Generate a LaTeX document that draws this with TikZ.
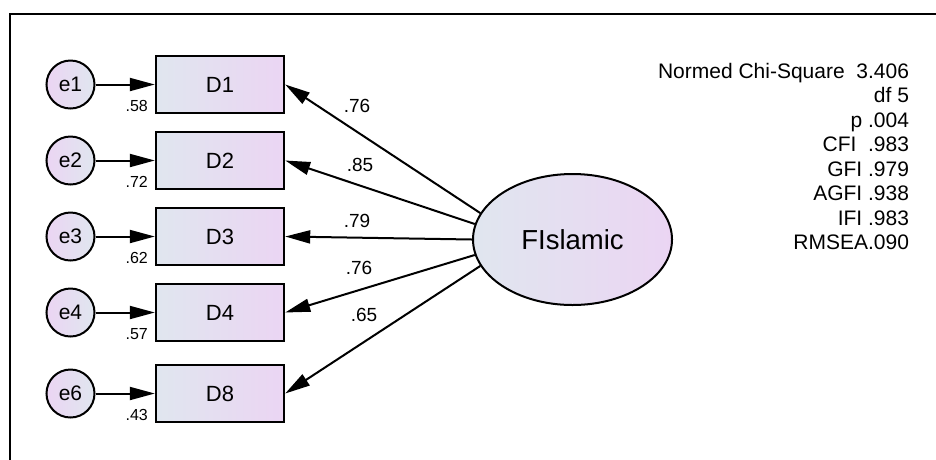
\documentclass[tikz,border=0pt]{standalone}
\usepackage{fontspec}
\setmainfont{Liberation Sans}
\usetikzlibrary{arrows.meta,shapes.geometric,matrix}
\definecolor{shadeblue}{RGB}{224,230,239}
\definecolor{shadepink}{RGB}{235,213,243}

\begin{document}
\begin{tikzpicture}[x=1pt,y=-1pt,line width=2pt]
    % `indicator' is used for the observed boxes (D1 ... D8).
    % `error' is used for the small error circles.
    % `latent' is used for the factor ellipse.
    \tikzstyle{indicator} = [draw,line width=2.4pt,left color=shadeblue,right color=shadepink,minimum width=128pt,minimum height=57pt,inner sep=0pt,font=\fontsize{22}{26}\selectfont]
    \tikzstyle{error} = [draw,shape=circle,left color=shadepink,right color=shadeblue,minimum size=48pt,inner sep=0pt,font=\fontsize{21}{25}\selectfont]
    \tikzstyle{latent} = [draw,shape=ellipse,left color=shadeblue,right color=shadepink,minimum width=199pt,minimum height=131pt,inner sep=0pt,font=\fontsize{27.5}{32}\selectfont]
    \tikzstyle{effect} = [-{Triangle[length=25pt,width=13pt]}]
    \tikzstyle{small} = [inner sep=0pt,font=\fontsize{16}{19}\selectfont]
    \tikzstyle{weight} = [inner sep=0pt,font=\fontsize{19}{22}\selectfont]
    \tikzstyle{fitline} = [anchor=base east,inner sep=0pt,font=\fontsize{21}{25}\selectfont]
    %
    \useasboundingbox (0,0) rectangle (936,459);
    \draw[line width=2.5pt] (10,470) -- (10,14) -- (946,14);
    %
    \matrix[row sep=16.6pt, column sep=59.3pt, inner sep=0pt, nodes={anchor=center},
            anchor=north west] (model) at (44.5,53.8) {
      \node[error] (e1) {e1}; & \node[indicator] (d1) {D1}; \\
      \node[error] (e2) {e2}; & \node[indicator] (d2) {D2}; \\
      \node[error] (e3) {e3}; & \node[indicator] (d3) {D3}; \\
      \node[error] (e4) {e4}; & \node[indicator] (d4) {D4}; \\[5pt]
      \node[error] (e6) {e6}; & \node[indicator] (d8) {D8}; \\
    };
    \node[latent] (fislamic) at (572.5,239.5) {FIslamic};
    %
    \foreach \e/\d/\r in {1/1/.58,2/2/.72,3/3/.62,4/4/.57,6/8/.43} {
      \draw[effect] (e\e) -- (d\d);
      \node[small,anchor=base east] (r\d) at ([xshift=-6pt,yshift=3.2pt]d\d.south west) {\r};
    }
    \foreach \d/\a in {1/164,2/171,3/180,4/189,8/196}
      \draw[effect] (fislamic.\a) -- (d\d.east);
    \foreach \d/\w/\x/\y in {1/.76/357/106,2/.85/360/165,3/.79/357/221,4/.76/359/268,8/.65/364/315}
      \node[weight] (w\d) at (\x,\y) {\w};
    %
    \foreach \t [count=\i] in {Normed Chi-Square\ \ 3.406, df 5, p .004, CFI\ \ .983,
                               GFI .979, AGFI .938, IFI .983, RMSEA.090}
      \node[fitline] (fit\i) at (910,{78+24.5*(\i-1)}) {\t};
\end{tikzpicture}
\end{document}
